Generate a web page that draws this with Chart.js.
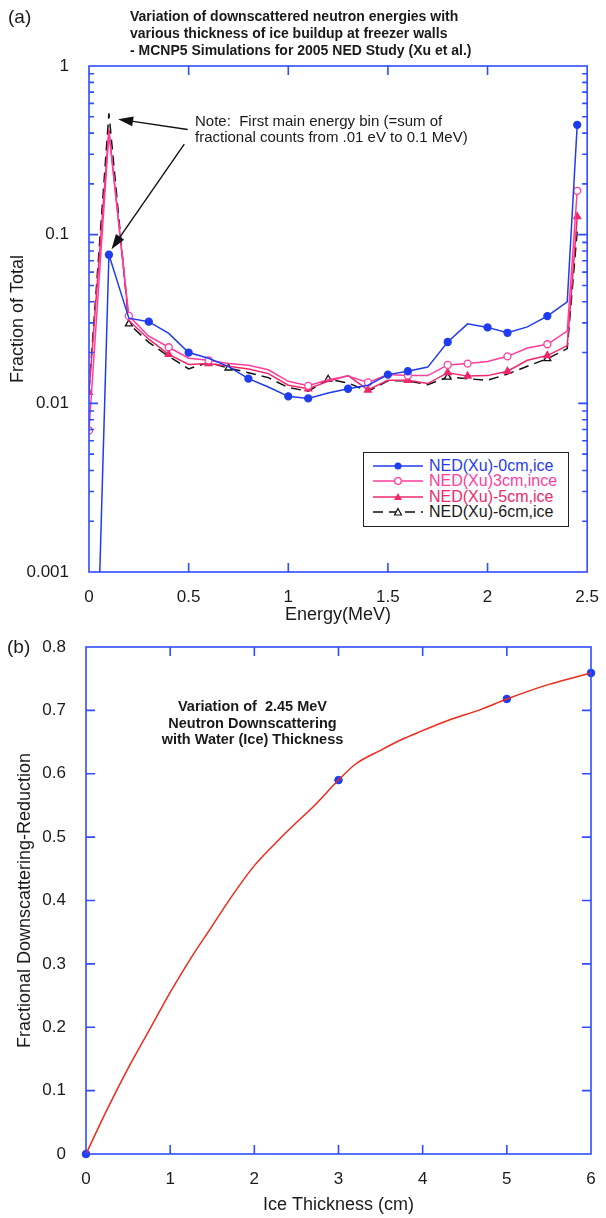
<!DOCTYPE html>
<html>
<head>
<meta charset="utf-8">
<script src="https://cdn.jsdelivr.net/npm/chart.js@4.4.1/dist/chart.umd.min.js"></script>
<style>
  html, body { margin: 0; padding: 0; background: #fff; }
  body { width: 606px; height: 1218px; position: relative; overflow: hidden;
         font-family: "Liberation Sans", Arial, sans-serif; color: #1a1a1a; }
  canvas { position: absolute; left: 0; }
  #chartA { top: 0; }
  #chartB { top: 620px; }
  .txt { position: absolute; white-space: pre; }
  .panel { font-size: 19px; }
  .title { left: 130px; top: 8px; font-weight: bold; font-size: 14px; line-height: 17px; }
  .note { left: 195px; top: 113px; font-size: 15px; line-height: 16px; }
  .bnote { left: 140px; top: 698px; width: 225px; text-align: center; font-weight: bold; font-size: 14.5px; line-height: 16.7px; }
  #legend { position: absolute; left: 363px; top: 452px; width: 206px; height: 75px;
            border: 1.5px solid #222; background: #fff; padding-top: 5px; box-sizing: border-box; }
  .row { height: 15.5px; display: flex; align-items: center; font-size: 16px; white-space: nowrap; }
  .row svg { margin-left: 9px; margin-right: 6px; }
</style>
</head>
<body>
<canvas id="chartA" width="606" height="640"></canvas>
<canvas id="chartB" width="606" height="598"></canvas>

<div class="txt panel" style="left:8px; top:6px;">(a)</div>
<div class="txt title">Variation of downscattered neutron energies with
various thickness of ice buildup at freezer walls
- MCNP5 Simulations for 2005 NED Study (Xu et al.)</div>
<div class="txt note">Note:  First main energy bin (=sum of
fractional counts from .01 eV to 0.1 MeV)</div>
<div id="legend"></div>

<div class="txt panel" style="left:7px; top:636px;">(b)</div>
<div class="txt bnote">Variation of  2.45 MeV
Neutron Downscattering
with Water (Ice) Thickness</div>

<script>
// ---- panel (a) data: fraction of total vs energy (MeV)
const energy = [0, 0.1, 0.2, 0.3, 0.4, 0.5, 0.6, 0.7, 0.8, 0.9, 1.0, 1.1, 1.2,
  1.3, 1.4, 1.5, 1.6, 1.7, 1.8, 1.9, 2.0, 2.1, 2.2, 2.3, 2.4, 2.45];
const ice0cm = [0.000006, 0.076, 0.032, 0.0305, 0.026, 0.020, 0.0185, 0.0165, 0.014, 0.0125,
  0.011, 0.0107, 0.0115, 0.0122, 0.0128, 0.0148, 0.0155, 0.0164, 0.0231, 0.0296,
  0.0282, 0.0262, 0.0284, 0.0329, 0.040, 0.448];
const ice3cm = [0.0069, 0.40, 0.033, 0.025, 0.0215, 0.0185, 0.018, 0.0172, 0.0168, 0.0158,
  0.0135, 0.0127, 0.0138, 0.0145, 0.0133, 0.0148, 0.0146, 0.0146, 0.0169, 0.0172,
  0.0177, 0.0190, 0.0213, 0.0224, 0.0268, 0.182];
const ice5cm = [0.0116, 0.42, 0.031, 0.024, 0.0195, 0.017, 0.0172, 0.0166, 0.016, 0.015,
  0.0128, 0.0122, 0.0135, 0.0146, 0.0120, 0.0137, 0.0137, 0.0131, 0.0152, 0.0145,
  0.0146, 0.0155, 0.0180, 0.0192, 0.0220, 0.128];
const ice6cm = [0.012, 0.525, 0.0296, 0.023, 0.019, 0.016, 0.0175, 0.0162, 0.0152, 0.0142,
  0.0124, 0.0118, 0.0139, 0.0132, 0.0118, 0.0136, 0.0136, 0.0129, 0.0143, 0.0140,
  0.0137, 0.0149, 0.0166, 0.0184, 0.0211, 0.105];
// energies where a marker is shown
const marks0 = [0.1, 0.3, 0.5, 0.8, 1.0, 1.1, 1.3, 1.5, 1.6, 1.8, 2.0, 2.1, 2.3, 2.45];
const marks3 = [0, 0.2, 0.4, 0.6, 1.1, 1.4, 1.6, 1.8, 1.9, 2.1, 2.3, 2.45];
const marks5 = [0, 0.4, 0.6, 1.1, 1.4, 1.6, 1.8, 1.9, 2.1, 2.3, 2.45];
const marks6 = [0.2, 0.7, 1.2, 1.8, 2.3];
const seriesNames = ["NED(Xu)-0cm,ice", "NED(Xu)3cm,ince", "NED(Xu)-5cm,ice", "NED(Xu)-6cm,ice"];
const yDecades = [0.001, 0.01, 0.1, 1];
const xTicksA = [0, 0.5, 1, 1.5, 2, 2.5];

// ---- panel (b) data: fractional downscattering reduction vs ice thickness (cm)
const thickness = [0, 0.25, 0.5, 0.75, 1, 1.25, 1.5, 1.75, 2, 2.3, 2.5, 2.7, 3, 3.2,
  3.5, 3.75, 4, 4.3, 4.7, 5, 5.5, 6];
const reduction = [0, 0.07, 0.135, 0.195, 0.255, 0.31, 0.36, 0.41, 0.455, 0.497, 0.523,
  0.548, 0.59, 0.615, 0.637, 0.654, 0.668, 0.684, 0.702, 0.718, 0.741, 0.759];
const thicknessPts = [0, 3, 5, 6];
const reductionPts = [0, 0.59, 0.718, 0.759];

const axisBlue = "#2f4dff";
const blue = "#1f3cf0";
const pink = "#ff3d9e";
const red = "#f0286a";
const black = "#111";

Chart.defaults.font.family = '"Liberation Sans", Arial, sans-serif';
Chart.defaults.color = "#1a1a1a";

// frame + inward tick marks, drawn from the scales
const frameTicks = {
  id: "frameTicks",
  afterDatasetsDraw(chart) {
    const { ctx, chartArea: a, scales: { x, y } } = chart;
    ctx.save();
    ctx.strokeStyle = axisBlue;
    ctx.lineWidth = 1.6;
    ctx.beginPath();
    x.ticks.forEach(t => {
      const px = x.getPixelForValue(t.value);
      if (px <= a.left + 1 || px >= a.right - 1) return;
      ctx.moveTo(px, a.bottom); ctx.lineTo(px, a.bottom - 9);
      ctx.moveTo(px, a.top); ctx.lineTo(px, a.top + 9);
    });
    const yTick = (v, len) => {
      const py = y.getPixelForValue(v);
      if (py <= a.top + 1 || py >= a.bottom - 1) return;
      ctx.moveTo(a.left, py); ctx.lineTo(a.left + len, py);
      ctx.moveTo(a.right, py); ctx.lineTo(a.right - len, py);
    };
    if (y.type === "logarithmic") {
      yDecades.slice(0, -1).forEach(d => {
        for (let m = 1; m < 10; m++) yTick(d * m, m === 1 ? 9 : 5);
      });
    } else {
      y.ticks.forEach(t => yTick(t.value, 9));
    }
    ctx.stroke();
    ctx.strokeRect(a.left, a.top, a.right - a.left, a.bottom - a.top);
    ctx.restore();
  }
};

// arrows from the note to the first energy bin
const noteArrows = {
  id: "noteArrows",
  afterDatasetsDraw(chart) {
    const { ctx, scales: { x, y } } = chart;
    const arrows = [
      { from: [0.495, 0.42], to: [0.146, 0.484] },
      { from: [0.478, 0.344], to: [0.113, 0.082] }
    ];
    ctx.save();
    ctx.strokeStyle = black;
    ctx.fillStyle = black;
    ctx.lineWidth = 1.4;
    arrows.forEach(ar => {
      const x0 = x.getPixelForValue(ar.from[0]), y0 = y.getPixelForValue(ar.from[1]);
      const x1 = x.getPixelForValue(ar.to[0]), y1 = y.getPixelForValue(ar.to[1]);
      const ang = Math.atan2(y1 - y0, x1 - x0);
      const hl = 15, hw = 5;
      const bx = x1 - hl * Math.cos(ang), by = y1 - hl * Math.sin(ang);
      ctx.beginPath();
      ctx.moveTo(x0, y0); ctx.lineTo(bx, by);
      ctx.stroke();
      ctx.beginPath();
      ctx.moveTo(x1, y1);
      ctx.lineTo(bx + hw * Math.sin(ang), by - hw * Math.cos(ang));
      ctx.lineTo(bx - hw * Math.sin(ang), by + hw * Math.cos(ang));
      ctx.closePath();
      ctx.fill();
    });
    ctx.restore();
  }
};

function lineSet(label, values, marks, color, style, fill, dash, r) {
  return {
    label: label,
    data: energy.map((e, i) => ({ x: e, y: values[i] })),
    borderColor: color,
    borderWidth: 1.5,
    borderDash: dash,
    pointStyle: style,
    pointRadius: energy.map(e => marks.includes(e) ? r : 0),
    pointBackgroundColor: fill,
    pointBorderColor: color,
    pointBorderWidth: 1.3,
    tension: 0
  };
}

new Chart(document.getElementById("chartA"), {
  type: "line",
  data: {
    datasets: [
      lineSet(seriesNames[0], ice0cm, marks0, blue, "circle", blue, [], 3.5),
      lineSet(seriesNames[1], ice3cm, marks3, pink, "circle", "#fff", [], 3.5),
      lineSet(seriesNames[2], ice5cm, marks5, red, "triangle", red, [], 4),
      lineSet(seriesNames[3], ice6cm, marks6, black, "triangle", "#fff", [10, 6], 4)
    ]
  },
  options: {
    responsive: false,
    animation: false,
    events: [],
    layout: { padding: { top: 66, right: 15, left: 0, bottom: 0 } },
    plugins: { legend: { display: false }, tooltip: { enabled: false } },
    scales: {
      x: {
        type: "linear", min: 0, max: 2.5,
        afterBuildTicks: s => { s.ticks = xTicksA.map(v => ({ value: v })); },
        afterFit: s => { s.height = 68; },
        grid: { display: false }, border: { display: false },
        ticks: { padding: 7, font: { size: 17 }, maxRotation: 0, callback: v => String(v) },
        title: { display: true, text: "Energy(MeV)", font: { size: 18 }, padding: { top: 0, bottom: 14 } }
      },
      y: {
        type: "logarithmic", min: 0.001, max: 1,
        afterBuildTicks: s => { s.ticks = yDecades.map(v => ({ value: v })); },
        afterFit: s => { s.width = 89; },
        grid: { display: false }, border: { display: false },
        ticks: { padding: 12, font: { size: 17 }, callback: v => String(v) },
        title: { display: true, text: "Fraction of Total", font: { size: 18 }, padding: { top: 7, bottom: 0 } }
      }
    }
  },
  plugins: [frameTicks, noteArrows]
});

new Chart(document.getElementById("chartB"), {
  type: "line",
  data: {
    datasets: [
      {
        data: thickness.map((t, i) => ({ x: t, y: reduction[i] })),
        borderColor: "#f02a1a", borderWidth: 1.5, pointRadius: 0,
        cubicInterpolationMode: "monotone"
      },
      {
        data: thicknessPts.map((t, i) => ({ x: t, y: reductionPts[i] })),
        showLine: false, clip: false, pointRadius: 3.8,
        pointBackgroundColor: blue, pointBorderColor: blue
      }
    ]
  },
  options: {
    responsive: false,
    animation: false,
    events: [],
    layout: { padding: { top: 27, right: 15, left: 0, bottom: 0 } },
    plugins: { legend: { display: false }, tooltip: { enabled: false } },
    scales: {
      x: {
        type: "linear", min: 0, max: 6,
        ticks: { stepSize: 1, padding: 7, font: { size: 17 }, maxRotation: 0 },
        afterFit: s => { s.height = 64; },
        grid: { display: false }, border: { display: false },
        title: { display: true, text: "Ice Thickness (cm)", font: { size: 18 }, padding: { top: 0, bottom: 2 } }
      },
      y: {
        type: "linear", min: 0, max: 0.8,
        ticks: { stepSize: 0.1, padding: 12, font: { size: 17 } },
        afterFit: s => { s.width = 86; },
        grid: { display: false }, border: { display: false },
        title: { display: true, text: "Fractional Downscattering-Reduction", font: { size: 18 }, padding: { top: 14, bottom: 0 } }
      }
    }
  },
  plugins: [frameTicks]
});

// legend inside panel (a)
const legendItems = [
  { color: blue, marker: '<circle cx="25" cy="7" r="3.5" fill="' + blue + '"/>', dash: "" },
  { color: pink, marker: '<circle cx="25" cy="7" r="3.3" fill="#fff" stroke="' + pink + '" stroke-width="1.3"/>', dash: "" },
  { color: red, marker: '<polygon points="25,3 29,10 21,10" fill="' + red + '"/>', dash: "" },
  { color: black, marker: '<polygon points="25,3.5 28.5,10 21.5,10" fill="#fff" stroke="#111" stroke-width="1.2"/>', dash: ' stroke-dasharray="10,6"' }
];
document.getElementById("legend").innerHTML = legendItems.map((it, i) =>
  '<div class="row" style="color:' + (i === 3 ? "#1a1a1a" : it.color) + '">' +
  '<svg width="50" height="14"><line x1="0" y1="7" x2="50" y2="7" stroke="' + it.color +
  '" stroke-width="1.5"' + it.dash + '/>' + it.marker + '</svg>' + seriesNames[i] + '</div>'
).join("");
</script>
</body>
</html>
